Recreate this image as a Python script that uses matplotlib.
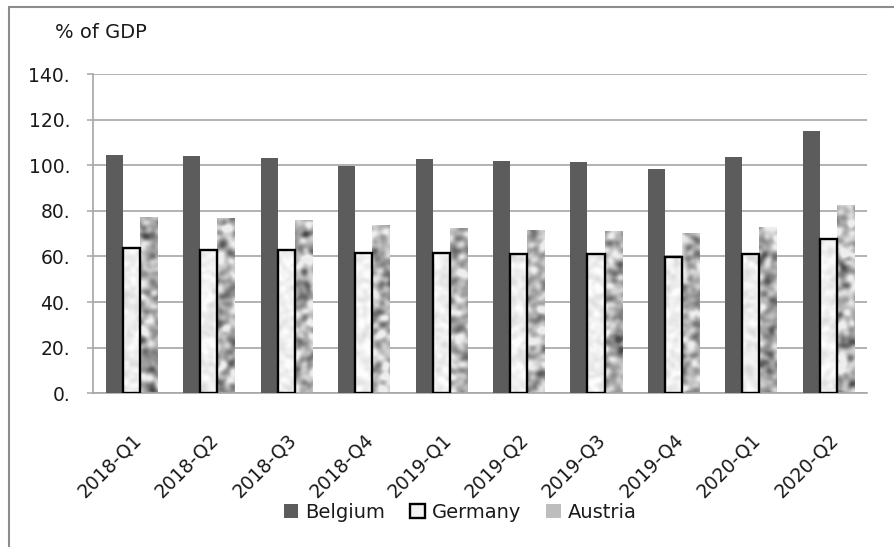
import matplotlib
matplotlib.use("Agg")
import matplotlib.pyplot as plt
import numpy as np
from matplotlib.patches import Patch, Rectangle
from matplotlib.transforms import ScaledTranslation


quarters = ["2018-Q1", "2018-Q2", "2018-Q3", "2018-Q4", "2019-Q1",
            "2019-Q2", "2019-Q3", "2019-Q4", "2020-Q1", "2020-Q2"]
belgium = [104.4, 103.9, 103.2, 99.7, 102.6, 102.0, 101.6, 98.5, 103.8, 114.9]
germany = [63.9, 62.9, 62.9, 61.7, 61.7, 61.1, 61.1, 59.8, 61.2, 67.8]
austria = [77.3, 76.8, 75.9, 73.7, 72.5, 71.6, 71.2, 70.4, 73.1, 82.6]
y_ticks = [0, 20, 40, 60, 80, 100, 120, 140]
y_tick_labels = ["0.", "20.", "40.", "60.", "80.", "100.", "120.", "140."]


def smooth_noise(rng, shape, sigma):
    # gaussian-filtered white noise, normalised to unit variance
    n = rng.standard_normal(shape)
    fy = np.fft.fftfreq(shape[0])[:, None]
    fx = np.fft.fftfreq(shape[1])[None, :]
    g = np.exp(-2 * (np.pi * sigma) ** 2 * (fx ** 2 + fy ** 2))
    s = np.real(np.fft.ifft2(np.fft.fft2(n) * g))
    return (s - s.mean()) / s.std()


def textured_bars(ax, bars, texture, ylim):
    x0, x1 = ax.get_xlim()
    for bar in bars:
        bar.set_facecolor("none")
        im = ax.imshow(texture, cmap="gray", vmin=0, vmax=1, extent=(x0, x1, ylim[0], ylim[1]),
                       aspect="auto", interpolation="bilinear", origin="lower", zorder=2)
        im.set_clip_path(bar)


plt.rcParams["font.family"] = "DejaVu Sans"
fig = plt.figure(figsize=(8.94, 5.47), dpi=100)
ax = fig.add_axes([92.7 / 894, 1 - 393.3 / 547, (867 - 92.7) / 894, (393.3 - 74) / 547])

x = np.arange(len(quarters))
w = 0.22
ax.set_xlim(-0.5, len(quarters) - 0.5)
ax.set_ylim(0, 140)

b_bel = ax.bar(x - w, belgium, w, color="#5c5c5c", zorder=3)
b_ger = ax.bar(x, germany, w, facecolor="none", edgecolor="black", linewidth=1.7, zorder=4)
b_aut = ax.bar(x + w, austria, w, facecolor="none", linewidth=0, zorder=3)

rng = np.random.default_rng(7)
shape = (330, 780)
aut_tex = np.clip(0.71 + 0.13 * smooth_noise(rng, shape, 2.6), 0.3, 0.93)
ger_tex = np.clip(0.94 + 0.03 * smooth_noise(rng, shape, 2.2), 0.84, 0.99)
textured_bars(ax, b_aut, aut_tex, (0, 140))
textured_bars(ax, b_ger, ger_tex, (0, 140))
ax.set_xlim(-0.5, len(quarters) - 0.5)
ax.set_ylim(0, 140)

ax.set_yticks(y_ticks)
ax.set_yticklabels(y_tick_labels, fontsize=13.5, color="#1a1a1a")
ax.yaxis.grid(True, color="#a6a6a6", linewidth=1.2, zorder=0)
ax.set_axisbelow(True)
ax.tick_params(axis="y", direction="out", length=4.3, width=1.1, color="#a6a6a6", pad=12)

ax.set_xticks(x)
ax.set_xticklabels(quarters, rotation=45, ha="right", va="center", rotation_mode="anchor",
                   fontsize=13.5, color="#1a1a1a")
ax.tick_params(axis="x", length=0, pad=31)
shift = ScaledTranslation(7 / 100, 0, fig.dpi_scale_trans)
for lbl in ax.get_xticklabels():
    lbl.set_transform(lbl.get_transform() + shift)

for side in ["top", "right"]:
    ax.spines[side].set_visible(False)
for side in ["left", "bottom"]:
    ax.spines[side].set_color("#a6a6a6")
    ax.spines[side].set_linewidth(1.2)

fig.text(55 / 894, 1 - 32 / 547, "% of GDP", fontsize=14, ha="left", va="center", color="#1a1a1a")

handles = [
    Patch(facecolor="#5c5c5c", edgecolor="none", label="Belgium"),
    Patch(facecolor="#f2f2f2", edgecolor="black", linewidth=1.7, label="Germany"),
    Patch(facecolor="#bdbdbd", edgecolor="none", label="Austria"),
]
fig.legend(handles=handles, loc="center", bbox_to_anchor=(460 / 894, 1 - 512 / 547), ncol=3,
           frameon=False, fontsize=14, handlelength=0.75, handleheight=0.75, handletextpad=0.35,
           columnspacing=1.3, labelcolor="#1a1a1a")

# outer chart frame, open to the right and bottom
fig.patches.append(Rectangle((9 / 894, -0.2), 1.2, 1.2 - 7 / 547, transform=fig.transFigure,
                             fill=False, edgecolor="#8c8c8c", linewidth=1.5))

fig.savefig("out.png", dpi=100)
